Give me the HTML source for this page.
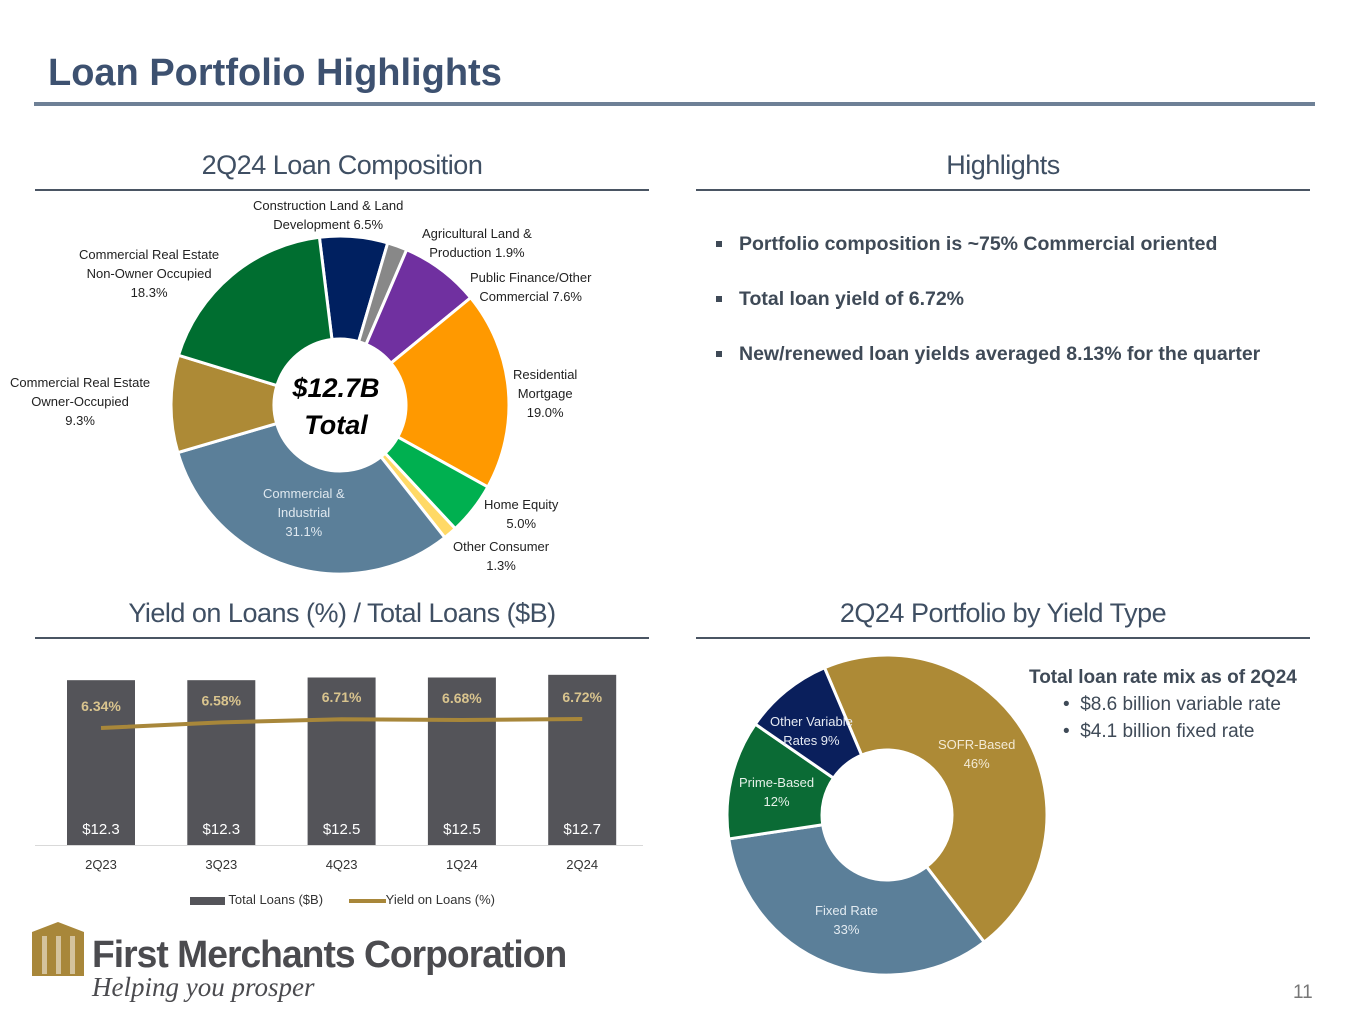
<!DOCTYPE html>
<html><head><meta charset="utf-8"><style>
body{margin:0;width:1365px;height:1024px;background:#fff;font-family:"Liberation Sans",sans-serif;position:relative;overflow:hidden}
.a{position:absolute}
.h{font-size:27px;color:#3f4f63;text-align:center;letter-spacing:-0.5px}
.rule{height:2px;background:#4a5563}
.lbl{font-size:13px;color:#222;text-align:center;line-height:19px;position:absolute;white-space:nowrap}
.bul{font-size:19.5px;font-weight:bold;color:#3f4a57;position:absolute;left:713px;white-space:nowrap}
.sq{position:absolute;left:3px;top:8px;width:6px;height:6px;background:#3f4a57}
</style></head><body>
<div class="a" style="left:48px;top:52px;font-size:38px;font-weight:bold;color:#3d5170">Loan Portfolio Highlights</div>
<div class="a" style="left:34px;top:102px;width:1281px;height:4px;background:#6e8096"></div>

<div class="a h" style="left:35px;top:150px;width:614px">2Q24 Loan Composition</div>
<div class="a rule" style="left:35px;top:189px;width:614px"></div>
<div class="a h" style="left:696px;top:150px;width:614px">Highlights</div>
<div class="a rule" style="left:696px;top:189px;width:614px"></div>
<div class="a h" style="left:35px;top:598px;width:614px">Yield on Loans (%) / Total Loans ($B)</div>
<div class="a rule" style="left:35px;top:637px;width:614px"></div>
<div class="a h" style="left:696px;top:598px;width:614px">2Q24 Portfolio by Yield Type</div>
<div class="a rule" style="left:696px;top:637px;width:614px"></div>

<div class="bul" style="top:233px"><span class="sq"></span><span style="padding-left:26px">Portfolio composition is ~75% Commercial oriented</span></div>
<div class="bul" style="top:288px"><span class="sq"></span><span style="padding-left:26px">Total loan yield of 6.72%</span></div>
<div class="bul" style="top:343px"><span class="sq"></span><span style="padding-left:26px">New/renewed loan yields averaged 8.13% for the quarter</span></div>

<div class="a" style="left:1029px;top:664px;font-size:19px;color:#3f4a57;line-height:27px;white-space:nowrap">
<div style="font-weight:bold">Total loan rate mix as of 2Q24</div>
<div style="padding-left:34px">•&nbsp; $8.6 billion variable rate</div>
<div style="padding-left:34px">•&nbsp; $4.1 billion fixed rate</div></div>

<svg class="a" style="left:0;top:0" width="1365" height="1024">
<g id="d1"></g><g id="d2"></g><g id="bars"></g>
</svg>

<div class="lbl" style="left:253px;top:196px">Construction Land &amp; Land<br>Development 6.5%</div>
<div class="lbl" style="left:422px;top:224px">Agricultural Land &amp;<br>Production 1.9%</div>
<div class="lbl" style="left:470px;top:268px">Public Finance/Other<br>Commercial 7.6%</div>
<div class="lbl" style="left:513px;top:365px">Residential<br>Mortgage<br>19.0%</div>
<div class="lbl" style="left:484px;top:495px">Home Equity<br>5.0%</div>
<div class="lbl" style="left:453px;top:537px">Other Consumer<br>1.3%</div>
<div class="lbl" style="left:79px;top:245px">Commercial Real Estate<br>Non-Owner Occupied<br>18.3%</div>
<div class="lbl" style="left:10px;top:373px">Commercial Real Estate<br>Owner-Occupied<br>9.3%</div>
<div class="lbl" style="left:263px;top:484px;color:#dfe8ef">Commercial &amp;<br>Industrial<br>31.1%</div>
<div class="a" style="left:266px;top:370px;width:140px;text-align:center;font-size:27px;font-weight:bold;font-style:italic;line-height:37px">$12.7B<br>Total</div>

<div class="lbl" style="left:938px;top:735px;color:#f3ead5">SOFR-Based<br>46%</div>
<div class="lbl" style="left:815px;top:901px;color:#e3ebf1">Fixed Rate<br>33%</div>
<div class="lbl" style="left:739px;top:773px;color:#e6f1e9">Prime-Based<br>12%</div>
<div class="lbl" style="left:770px;top:712px;color:#e6eaf3">Other Variable<br>Rates 9%</div>

<div class="a" style="left:190px;top:892px;font-size:13px;color:#333;white-space:nowrap">
<span style="display:inline-block;width:35px;height:8px;background:#545459;vertical-align:middle"></span> Total Loans ($B)
<span style="display:inline-block;width:37px;height:4px;background:#a8873a;vertical-align:middle;margin-left:22px"></span>Yield on Loans (%)</div>

<div class="a" style="left:28px;top:922px;width:540px;height:90px">
<svg width="56" height="60" style="position:absolute;left:2px;top:0"><polygon points="28,0 54,10 54,54 2,54 2,10" fill="#a8873a"/><rect x="12" y="14" width="5" height="38" fill="#fff" opacity=".5"/><rect x="26" y="14" width="5" height="38" fill="#fff" opacity=".5"/><rect x="40" y="14" width="5" height="38" fill="#fff" opacity=".5"/></svg>
<div class="a" style="left:64px;top:12px;font-size:38px;font-weight:bold;color:#4b4b4f;letter-spacing:-1px;white-space:nowrap;transform:scaleX(0.98);transform-origin:left top">First Merchants Corporation</div>
<div class="a" style="left:64px;top:50px;font-size:27px;font-style:italic;font-family:'Liberation Serif',serif;color:#4b4b4f;white-space:nowrap">Helping you prosper</div></div>
<div class="a" style="left:1293px;top:982px;font-size:19px;color:#777">11</div>

<script>
const compCats=["Construction Land & Land Development","Agricultural Land & Production","Public Finance/Other Commercial","Residential Mortgage","Home Equity","Other Consumer","Commercial & Industrial","CRE Owner-Occupied","CRE Non-Owner Occupied"];
const compVals=[6.5,1.9,7.6,19.0,5.0,1.3,31.1,9.3,18.3];
const compColors=["#002060","#888888","#7030a0","#ff9900","#00b050","#ffd966","#5b7f99","#ad8a36","#006e30"];
const typeCats=["SOFR-Based","Fixed Rate","Prime-Based","Other Variable Rates"];
const typeVals=[46,33,12,9];
const typeColors=["#ad8a36","#5b7f99","#0b6b35","#0a1f5c"];
const quarters=["2Q23","3Q23","4Q23","1Q24","2Q24"];
const loans=[12.3,12.3,12.5,12.5,12.7];
const yields=[6.34,6.58,6.71,6.68,6.72];
const NS="http://www.w3.org/2000/svg";
function mk(t,a,p){const e=document.createElementNS(NS,t);for(const k in a)e.setAttribute(k,a[k]);p.appendChild(e);return e;}
function donut(g,cx,cy,ro,ri,start,vals,cols,names,prefix){
 const tot=vals.reduce((a,b)=>a+b,0);let a=start;
 vals.forEach((v,i)=>{const b=a+v/tot*360;
  const P=(r,d)=>[cx+r*Math.sin(d*Math.PI/180),cy-r*Math.cos(d*Math.PI/180)];
  const [x1,y1]=P(ro,a),[x2,y2]=P(ro,b),[x3,y3]=P(ri,b),[x4,y4]=P(ri,a);const L=(b-a)>180?1:0;
  const p=mk("path",{d:`M${x1},${y1}A${ro},${ro} 0 ${L} 1 ${x2},${y2}L${x3},${y3}A${ri},${ri} 0 ${L} 0 ${x4},${y4}Z`,fill:cols[i],stroke:"#fff","stroke-width":3},g);
  
  
  a=b;});
}
donut(document.getElementById('d1'),340,405,169,66,-7,compVals,compColors,compCats,'composition');
donut(document.getElementById('d2'),887,815,160,65,-23,typeVals,typeColors,typeCats,'yield-type');
const g=document.getElementById('bars');
const base=845,kb=13.4,x0=101,dx=120.3,bw=68;
const yY=v=>719-(v-6.72)*23.7;
mk("line",{x1:35,x2:643,y1:base+0.5,y2:base+0.5,stroke:"#d9d9d9","stroke-width":1},g);
let pts=[];
loans.forEach((v,i)=>{const cx=x0+i*dx,h=v*kb;
 const r=mk("rect",{x:cx-bw/2,y:base-h,width:bw,height:h,fill:"#545459"},g);
 
 
 const t=mk("text",{x:cx,y:834,"text-anchor":"middle","font-size":15,fill:"#fff","font-family":"Liberation Sans"},g);t.textContent="$"+v.toFixed(1);
 const q=mk("text",{x:cx,y:869,"text-anchor":"middle","font-size":13,fill:"#333","font-family":"Liberation Sans"},g);q.textContent=quarters[i];
 pts.push(cx+","+yY(yields[i]));
});
const ln=mk("polyline",{points:pts.join(" "),fill:"none",stroke:"#a8873a","stroke-width":4},g);


yields.forEach((v,i)=>{const t=mk("text",{x:x0+i*dx,y:yY(v)-17,"text-anchor":"middle","font-size":14,"font-weight":"bold",fill:"#d9c48e","font-family":"Liberation Sans"},g);t.textContent=v.toFixed(2)+"%";});
</script>
</body></html>
